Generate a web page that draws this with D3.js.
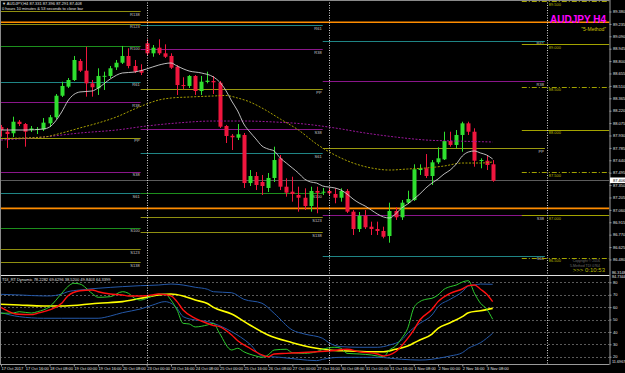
<!DOCTYPE html>
<html>
<head>
<meta charset="utf-8">
<script src="https://cdn.jsdelivr.net/npm/d3@7"></script>
<style>
  body { margin: 0; background: #000; }
  svg { display: block; font-family: "Liberation Sans", Arial, sans-serif; }
</style>
</head>
<body>
<div id="chart"></div>
<script>
// Define the width and height of the SVG
const width = 625;
const height = 373;

// AUDJPY H4 candles, bar 0 = 17 Oct 2017 00:00, bar 81 = 3 Nov 2017 12:00
const opens = [88.029, 87.974, 87.956, 88.091, 88.064, 87.994, 88.000, 88.002, 88.072, 88.143,
  88.395, 88.501, 88.579, 88.801, 88.688, 88.540, 88.482, 88.620, 88.626, 88.727,
  88.781, 88.860, 88.743, 88.696, 89.008, 88.891, 88.957, 88.891, 88.860, 88.734,
  88.520, 88.509, 88.626, 88.450, 88.556, 88.567, 88.547, 88.041, 87.927, 87.904,
  87.936, 87.374, 87.456, 87.386, 87.316, 87.433, 87.663, 87.331, 87.273, 87.234,
  87.202, 87.105, 87.281, 87.261, 87.281, 87.246, 87.202, 87.281, 87.039, 86.836,
  86.992, 86.863, 86.836, 86.813, 86.754, 87.047, 86.973, 87.144, 87.175, 87.526,
  87.546, 87.456, 87.616, 87.651, 87.865, 87.819, 87.936, 88.072, 87.974, 87.635,
  87.635, 87.593];
const highs = [88.053, 88.018, 88.150, 88.111, 88.076, 88.041, 88.029, 88.134, 88.170, 88.415,
  88.559, 88.602, 88.860, 88.825, 88.968, 88.579, 88.716, 88.676, 88.743, 88.813,
  88.977, 88.950, 88.813, 88.763, 89.055, 88.988, 89.055, 88.996, 88.891, 88.754,
  88.611, 88.637, 88.637, 88.626, 88.676, 88.626, 88.567, 88.053, 87.947, 88.064,
  87.959, 87.526, 87.503, 87.468, 87.491, 87.799, 87.702, 87.429, 87.448, 87.331,
  87.312, 87.331, 87.331, 87.316, 87.316, 87.312, 87.312, 87.304, 87.058, 87.035,
  87.058, 86.922, 86.922, 86.863, 87.144, 87.090, 87.175, 87.284, 87.593, 87.593,
  87.713, 87.643, 87.792, 87.974, 87.974, 87.994, 88.091, 88.091, 88.014, 87.663,
  87.702, 87.643];
const lows = [87.916, 87.784, 87.912, 88.041, 87.799, 87.971, 87.947, 87.982, 88.029, 88.123,
  88.380, 88.485, 88.567, 88.672, 88.384, 88.384, 88.404, 88.462, 88.602, 88.696,
  88.766, 88.716, 88.661, 88.637, 88.871, 88.851, 88.871, 88.836, 88.708, 88.404,
  88.470, 88.485, 88.404, 88.404, 88.540, 88.415, 88.018, 87.842, 87.760, 87.877,
  87.316, 87.339, 87.292, 87.234, 87.269, 87.386, 87.292, 87.214, 87.156, 87.039,
  87.058, 87.039, 87.020, 87.234, 87.222, 87.137, 87.156, 87.023, 86.766, 86.801,
  86.836, 86.766, 86.766, 86.727, 86.676, 86.942, 86.942, 87.129, 87.164, 87.468,
  87.433, 87.351, 87.596, 87.643, 87.799, 87.780, 87.740, 87.936, 87.565, 87.546,
  87.526, 87.389];
const closes = [87.994, 87.947, 88.091, 88.064, 87.974, 88.012, 88.006, 88.080, 88.143, 88.395,
  88.509, 88.579, 88.813, 88.688, 88.540, 88.494, 88.626, 88.628, 88.716, 88.781,
  88.860, 88.743, 88.676, 88.664, 88.891, 88.957, 88.891, 88.851, 88.723, 88.520,
  88.509, 88.626, 88.450, 88.559, 88.571, 88.552, 88.033, 87.924, 87.909, 87.944,
  87.374, 87.456, 87.351, 87.339, 87.433, 87.643, 87.331, 87.261, 87.246, 87.202,
  87.105, 87.281, 87.261, 87.273, 87.254, 87.202, 87.281, 87.039, 86.836, 86.992,
  86.856, 86.836, 86.813, 86.746, 87.047, 86.973, 87.144, 87.187, 87.535, 87.546,
  87.456, 87.616, 87.663, 87.865, 87.819, 87.936, 88.072, 87.974, 87.635, 87.643,
  87.585, 87.401];

// moving averages (bar index, price)
const maFastBars = [0, 4, 7, 8, 10, 11, 13, 15, 16, 18, 20, 22, 24, 26, 28, 29, 31, 33, 35, 36,
  37, 38, 39, 40, 41, 42, 43, 44, 45, 46, 47, 48, 49, 50, 51, 52, 53, 54, 55, 56,
  57, 58, 59, 60, 61, 62, 63, 64, 65, 66, 67, 68, 69, 70, 71, 72, 73, 74, 75, 76,
  77, 78, 79, 80, 81];
const maFastValues = [87.994, 87.994, 88.006, 88.029, 88.205, 88.333, 88.439, 88.450, 88.485, 88.591,
  88.661, 88.672, 88.708, 88.754, 88.778, 88.743, 88.684, 88.661, 88.614, 88.556,
  88.462, 88.333, 88.216, 88.064, 87.971, 87.889, 87.807, 87.772, 87.749, 87.667,
  87.608, 87.550, 87.491, 87.421, 87.386, 87.374, 87.339, 87.327, 87.316, 87.292,
  87.246, 87.187, 87.140, 87.105, 87.058, 87.012, 86.977, 86.965, 87.012, 87.082,
  87.129, 87.187, 87.246, 87.316, 87.374, 87.421, 87.480, 87.526, 87.596, 87.690,
  87.737, 87.749, 87.725, 87.702, 87.655];
const maSlowBars = [0, 7, 10, 13, 16, 19, 22, 24, 26, 28, 31, 35, 37, 39, 41, 43, 46, 49, 52, 55,
  58, 61, 64, 67, 70, 73, 76, 79, 81];
const maSlowValues = [87.895, 87.912, 87.959, 88.018, 88.076, 88.146, 88.240, 88.298, 88.345, 88.368,
  88.380, 88.392, 88.398, 88.368, 88.322, 88.251, 88.123, 87.994, 87.830, 87.702,
  87.608, 87.550, 87.526, 87.538, 87.550, 87.573, 87.608, 87.608, 87.620];
const maLongBars = [0, 7, 13, 19, 24, 29, 35, 40, 45, 50, 55, 60, 65, 70, 75, 81];
const maLongValues = [87.877, 87.912, 87.959, 87.994, 88.041, 88.076, 88.099, 88.099, 88.088, 88.064,
  88.018, 87.959, 87.912, 87.877, 87.865, 87.854];

// fibonacci pivot levels for three weeks
const pivotNames = ["R138", "R123", "R100", "R61", "R38", "PP", "S38", "S61", "S100", "S123", "S138"];
const pivotColors = ["#8f8f10", "#8f8f10", "#1d8f1d", "#1f8585", "#8a168a", "#9a9a10", "#8a168a", "#1f8585", "#1d8f1d", "#8f8f10", "#8f8f10"];
const prevWeekPivots = [89.382, 89.234, 88.977, 88.559, 88.318, 87.904, 87.506, 87.254, 86.851, 86.599, 86.447];
const thisWeekPivots = [null, null, null, 89.222, 88.938, 88.470, 88.002, 87.722, 87.257, 86.973, 86.801];
const nextWeekPivots = [null, null, null, 89.039, 88.567, 87.780, 86.996, 86.524, null, null, null];
const weekSpans = [[-0.3, 23], [23, 53], [53, 89.6]];

const roundLevels = [89.5, 89.0, 88.5, 88.0, 87.5, 87.0, 86.5];
const orangeLevels = [89.254, 87.078];
const bidPrice = 87.406;
const separatorBars = [24, 54, 90];

const priceTicks = [86.480, 86.625, 86.770, 86.915, 87.060, 87.205, 87.350, 87.495, 87.640, 87.785,
  87.930, 88.075, 88.220, 88.365, 88.510, 88.655, 88.800, 88.945, 89.090, 89.235, 89.380];
const timeTickBars = [0, 4, 8, 12, 16, 20, 24, 28, 32, 36, 40, 44, 48, 52, 56, 60, 64, 68, 72, 76, 80];
const timeTickLabels = ["17 Oct 2017", "17 Oct 16:00", "18 Oct 08:00", "19 Oct 00:00", "19 Oct 16:00",
  "20 Oct 08:00", "23 Oct 00:00", "23 Oct 16:00", "24 Oct 08:00", "25 Oct 00:00", "25 Oct 16:00",
  "26 Oct 08:00", "27 Oct 00:00", "27 Oct 16:00", "30 Oct 08:00", "31 Oct 00:00", "31 Oct 16:00",
  "1 Nov 08:00", "2 Nov 00:00", "2 Nov 16:00", "3 Nov 08:00"];

// TDI sub window lines (bar index, value)
const rsiBars = [0, 2, 3, 5, 6, 8, 10, 11, 12, 13, 15, 16, 18, 20, 21, 22, 23, 25, 26, 27,
  28, 29, 30, 31, 32, 34, 35, 36, 38, 39, 40, 42, 43, 44, 45, 47, 48, 50, 52, 53,
  55, 56, 57, 59, 61, 62, 63, 64, 65, 66, 67, 68, 69, 70, 71, 72, 73, 74, 75, 76,
  77, 78, 79, 80, 81];
const rsiValues = [55.0, 55.2, 56.3, 55.2, 56.3, 60.3, 71.1, 76.5, 79.2, 78.6, 71.1, 67.9, 68.4, 72.4, 71.1, 67.1, 65.7, 69.2, 70.6, 70.6,
  65.7, 57.7, 46.9, 46.4, 44.0, 45.6, 46.9, 38.9, 25.4, 26.8, 24.0, 20.6, 19.5, 21.4, 25.4, 26.0, 23.2, 22.7, 24.0, 26.0,
  27.6, 26.8, 22.7, 22.2, 21.4, 20.6, 20.0, 25.4, 28.6, 34.8, 42.9, 59.3, 64.4, 66.3, 67.1, 69.8, 74.4, 76.5, 77.8, 80.2,
  81.3, 71.1, 63.1, 58.5, 50.2];
const signalBars = [0, 1, 2, 3, 5, 6, 8, 10, 11, 13, 15, 16, 18, 20, 21, 23, 25, 26, 28, 29,
  30, 32, 33, 35, 36, 38, 39, 41, 43, 44, 45, 47, 49, 52, 54, 57, 59, 62, 63, 65,
  67, 68, 69, 71, 72, 74, 76, 77, 78, 79, 80, 81];
const signalValues = [59.8, 57.1, 55.0, 54.2, 53.9, 55.0, 57.7, 63.1, 69.0, 73.2, 73.8, 72.4, 70.6, 69.8, 69.0, 69.0, 69.8, 70.6, 69.0, 64.4,
  57.7, 51.0, 48.8, 45.2, 44.2, 37.5, 32.9, 26.8, 21.4, 20.0, 22.2, 22.7, 23.2, 24.0, 24.6, 26.0, 24.0, 22.2, 20.6, 24.0,
  34.8, 41.5, 49.6, 58.2, 64.4, 71.1, 74.6, 77.3, 77.8, 74.4, 70.6, 64.4];
const baseBars = [0, 3, 7, 10, 13, 16, 20, 23, 26, 28, 30, 32, 34, 35, 38, 41, 44, 48, 51, 54,
  57, 61, 63, 65, 67, 68, 69, 71, 72, 74, 76, 77, 79, 81];
const baseValues = [62.3, 61.7, 60.9, 60.9, 61.7, 63.1, 64.4, 67.1, 69.8, 70.6, 69.0, 65.7, 62.9, 59.8, 54.4, 45.6, 37.5, 31.3, 27.6, 25.4,
  24.6, 24.0, 24.0, 26.0, 28.6, 31.0, 33.5, 38.3, 42.9, 47.4, 52.3, 55.5, 57.1, 59.0];
const upperBars = [0, 3, 7, 8, 10, 11, 13, 16, 20, 23, 26, 28, 30, 32, 34, 35, 38, 40, 43, 45,
  48, 50, 53, 54, 56, 59, 62, 64, 66, 67, 69, 71, 72, 74, 76, 77, 78, 79, 81];
const upperValues = [70.3, 69.8, 69.0, 69.0, 70.6, 72.4, 73.8, 75.2, 76.5, 77.3, 77.8, 78.6, 77.8, 76.0, 74.4, 72.4, 71.6, 66.3, 63.1, 55.0,
  41.5, 38.3, 34.8, 31.3, 28.1, 27.6, 27.6, 29.4, 33.5, 38.9, 46.9, 53.6, 60.3, 66.3, 72.4, 77.0, 77.8, 78.6, 78.4];
const lowerBars = [0, 3, 7, 10, 13, 16, 18, 20, 23, 25, 27, 28, 29, 30, 32, 34, 35, 38, 41, 43,
  46, 49, 52, 53, 56, 59, 62, 66, 69, 71, 72, 74, 76, 77, 79, 81];
const lowerValues = [55.5, 52.3, 51.0, 51.0, 51.0, 51.0, 52.8, 55.5, 58.5, 61.7, 64.4, 63.1, 59.0, 52.3, 49.6, 48.4, 46.9, 40.2, 30.2, 20.6,
  19.5, 17.9, 16.8, 17.9, 19.5, 19.5, 19.5, 17.9, 17.3, 17.9, 18.7, 20.6, 23.2, 26.8, 31.3, 38.9];
const subTicks = [80, 70, 60, 50, 40, 30, 20];

// scales
const plotRight = 609.5;
const x = d3.scaleLinear().domain([0, 100]).range([1, 608]);
const y = d3.scaleLinear().domain([87, 89]).range([215, 44]);
const ySub = d3.scaleLinear().domain([20, 80]).range([356.7, 282.3]);

const svg = d3.select("#chart")
  .append("svg")
  .attr("width", width)
  .attr("height", height);

svg.append("rect").attr("width", width).attr("height", height).attr("fill", "#000");

svg.append("clipPath").attr("id", "mainClip")
  .append("rect").attr("x", 0).attr("y", 0).attr("width", plotRight).attr("height", 274);
svg.append("clipPath").attr("id", "subClip")
  .append("rect").attr("x", 0).attr("y", 276).attr("width", plotRight).attr("height", 88);

const main = svg.append("g").attr("clip-path", "url(#mainClip)");
const sub = svg.append("g").attr("clip-path", "url(#subClip)");

// pivot segments
[prevWeekPivots, thisWeekPivots, nextWeekPivots].forEach((levels, w) => {
  const [b0, b1] = weekSpans[w];
  levels.forEach((p, k) => {
    if (p === null) return;
    main.append("line")
      .attr("x1", x(b0)).attr("x2", x(b1))
      .attr("y1", Math.round(y(p)) + 0.5).attr("y2", Math.round(y(p)) + 0.5)
      .attr("stroke", pivotColors[k]).attr("stroke-width", 1);
    main.append("text")
      .attr("x", x(b1) - 1).attr("y", y(p) + 4.5)
      .attr("text-anchor", "end")
      .attr("font-size", "4px")
      .attr("fill", "#c8c8c8")
      .text(pivotNames[k]);
  });
});

// round number levels
roundLevels.forEach(p => {
  const whole = Math.abs(p - Math.round(p)) < 0.001;
  main.append("line")
    .attr("x1", x(85.8)).attr("x2", plotRight)
    .attr("y1", Math.round(y(p)) + 0.5).attr("y2", Math.round(y(p)) + 0.5)
    .attr("stroke", "#a3a300")
    .attr("stroke-dasharray", whole ? null : "5,2,1,2");
  main.append("text")
    .attr("x", x(90) + 1.5).attr("y", y(p) + 4.5)
    .attr("font-size", "4px")
    .attr("fill", "#b8b800")
    .text(p.toFixed(3));
});

// orange levels
orangeLevels.forEach(p => {
  main.append("line")
    .attr("x1", 0).attr("x2", plotRight)
    .attr("y1", y(p)).attr("y2", y(p))
    .attr("stroke", "#ff8c00").attr("stroke-width", 1.6);
});

// bid line
main.append("line")
  .attr("x1", 0).attr("x2", plotRight)
  .attr("y1", Math.round(y(bidPrice)) + 0.5).attr("y2", Math.round(y(bidPrice)) + 0.5)
  .attr("stroke", "#5c5c5c");

// candles
const bars = d3.range(opens.length);
const upColor = "#2fe02f";
const downColor = "#f0163e";
main.selectAll("line.wick")
  .data(bars)
  .enter()
  .append("line")
  .attr("class", "wick")
  .attr("x1", i => Math.round(x(i)) + 0.5)
  .attr("x2", i => Math.round(x(i)) + 0.5)
  .attr("y1", i => y(highs[i]))
  .attr("y2", i => y(lows[i]))
  .attr("stroke", i => closes[i] >= opens[i] ? upColor : downColor);
main.selectAll("rect.body")
  .data(bars)
  .enter()
  .append("rect")
  .attr("class", "body")
  .attr("x", i => Math.round(x(i)) - 1.5)
  .attr("y", i => y(Math.max(opens[i], closes[i])))
  .attr("width", 4)
  .attr("height", i => Math.max(1, Math.abs(y(opens[i]) - y(closes[i]))))
  .attr("fill", i => closes[i] >= opens[i] ? upColor : downColor);

// moving averages
const maLine = d3.line().x(d => x(d[0])).y(d => y(d[1])).curve(d3.curveMonotoneX);
main.append("path")
  .attr("d", maLine(maLongBars.map((b, k) => [b, maLongValues[k]])))
  .attr("fill", "none").attr("stroke", "#9a169a").attr("stroke-dasharray", "2,1.5");
main.append("path")
  .attr("d", maLine(maSlowBars.map((b, k) => [b, maSlowValues[k]])))
  .attr("fill", "none").attr("stroke", "#a8a000").attr("stroke-dasharray", "2,1.5");
main.append("path")
  .attr("d", maLine(maFastBars.map((b, k) => [b, maFastValues[k]])))
  .attr("fill", "none").attr("stroke", "#d0d0d0").attr("stroke-width", 0.9);

// titles in main window
svg.append("text").attr("x", 2).attr("y", 5)
  .attr("font-size", "4px").attr("fill", "#e0e0e0")
  .text("\u25BC AUDJPY,H4 87.331 87.396 87.291 87.408");
svg.append("text").attr("x", 2).attr("y", 9.5)
  .attr("font-size", "4px").attr("fill", "#e0e0e0")
  .text("0 hours 10 minutes & 53 seconds to close bar");
svg.append("text").attr("x", 606).attr("y", 23)
  .attr("text-anchor", "end")
  .attr("font-size", "10px").attr("font-weight", "bold")
  .attr("fill", "#ff00ff")
  .text("AUDJPY H4");
svg.append("text").attr("x", 606).attr("y", 31)
  .attr("text-anchor", "end")
  .attr("font-size", "5px")
  .attr("fill", "#d0c800")
  .text("\"5-Method\"");
svg.append("text").attr("x", 600).attr("y", 262)
  .attr("text-anchor", "end").attr("font-size", "3.5px").attr("fill", "#6a6a6a")
  .text("Copyright \u00A9 2016");
svg.append("text").attr("x", 600).attr("y", 267)
  .attr("text-anchor", "end").attr("font-size", "3.5px").attr("fill", "#6a6a6a")
  .text("5-Method TDI 0764");
svg.append("text").attr("x", 605).attr("y", 272)
  .attr("text-anchor", "end").attr("font-size", "6px").attr("fill", "#b8b800")
  .text(">>> 0:10:53");

// sub window: levels and TDI lines
sub.selectAll("line.level")
  .data(subTicks)
  .enter()
  .append("line")
  .attr("class", "level")
  .attr("x1", 0).attr("x2", plotRight)
  .attr("y1", d => Math.round(ySub(d)) + 0.5).attr("y2", d => Math.round(ySub(d)) + 0.5)
  .attr("stroke", "#5a5a5a").attr("stroke-dasharray", "2,2");

const subLine = d3.line().x(d => x(d[0])).y(d => ySub(d[1])).curve(d3.curveMonotoneX);
const tdiSeries = [
  { bars: upperBars, values: upperValues, color: "#2458a8", w: 1 },
  { bars: lowerBars, values: lowerValues, color: "#2458a8", w: 1 },
  { bars: baseBars, values: baseValues, color: "#ffff00", w: 1.6 },
  { bars: rsiBars, values: rsiValues, color: "#2ecc2e", w: 1 },
  { bars: signalBars, values: signalValues, color: "#ff1010", w: 1.4 }
];
tdiSeries.forEach(s => {
  sub.append("path")
    .attr("d", subLine(s.bars.map((b, k) => [b, s.values[k]])))
    .attr("fill", "none").attr("stroke", s.color).attr("stroke-width", s.w);
});

svg.append("text").attr("x", 2).attr("y", 280.5)
  .attr("font-size", "4px").attr("fill", "#e0e0e0")
  .text("TDI_RT Dynamic 78.2282 69.6296 38.5200 49.8403 64.3399");

// period separators
svg.selectAll("line.sep")
  .data(separatorBars)
  .enter()
  .append("line")
  .attr("class", "sep")
  .attr("x1", d => Math.round(x(d)) + 0.5).attr("x2", d => Math.round(x(d)) + 0.5)
  .attr("y1", 0).attr("y2", 364)
  .attr("stroke", "#d8d8d8").attr("stroke-dasharray", "1,1.5");

// frames
svg.append("line").attr("x1", 0).attr("x2", plotRight).attr("y1", 275.5).attr("y2", 275.5)
  .attr("stroke", "#e0e0e0").attr("stroke-width", 1.2);
svg.append("line").attr("x1", 0).attr("x2", plotRight).attr("y1", 364.5).attr("y2", 364.5)
  .attr("stroke", "#9a9a9a");
svg.append("line").attr("x1", 0.5).attr("x2", 0.5).attr("y1", 0).attr("y2", 364.5)
  .attr("stroke", "#8a8a8a");
svg.append("line").attr("x1", 0).attr("x2", plotRight).attr("y1", 0.5).attr("y2", 0.5)
  .attr("stroke", "#8a8a8a");

// price axis
const priceAxis = d3.axisRight(y).tickValues(priceTicks).tickSize(2).tickFormat(d3.format(".3f"));
const pa = svg.append("g").attr("transform", `translate(${plotRight},0)`).call(priceAxis);
pa.select(".domain").attr("stroke", "#9a9a9a").attr("d", "M0.5,0V364.5");
pa.selectAll(".tick line").attr("stroke", "#9a9a9a");
pa.selectAll(".tick text").attr("fill", "#e0e0e0").attr("font-size", "4px").attr("x", 3.5)
  .attr("font-family", "Liberation Sans, Arial, sans-serif");

// bid label
svg.append("rect").attr("x", 610).attr("y", y(bidPrice) - 2.8).attr("width", 15).attr("height", 5.6).attr("fill", "#ffffff");
svg.append("text").attr("x", 613).attr("y", y(bidPrice) + 1.5)
  .attr("font-size", "4px").attr("fill", "#000")
  .text(bidPrice.toFixed(3));

// sub axis
const subAxis = d3.axisRight(ySub).tickValues(subTicks).tickSize(2).tickFormat(d3.format("d"));
const sa = svg.append("g").attr("transform", `translate(${plotRight},0)`).call(subAxis);
sa.select(".domain").remove();
sa.selectAll(".tick line").attr("stroke", "#9a9a9a");
sa.selectAll(".tick text").attr("fill", "#e0e0e0").attr("font-size", "4px").attr("x", 3.5)
  .attr("font-family", "Liberation Sans, Arial, sans-serif");
[["86.3148", 273.5], ["84.7344", 278], ["11.6967", 363]].forEach(([t, yy]) => {
  svg.append("text").attr("x", 612).attr("y", yy)
    .attr("font-size", "3.8px").attr("fill", "#e0e0e0").text(t);
});

// time axis
const timeAxis = d3.axisBottom(x).tickValues(timeTickBars).tickSize(2)
  .tickFormat((d, k) => timeTickLabels[k]);
const ta = svg.append("g").attr("transform", "translate(0,364.5)").call(timeAxis);
ta.select(".domain").remove();
ta.selectAll(".tick line").attr("stroke", "#9a9a9a");
ta.selectAll(".tick text")
  .attr("fill", "#e0e0e0").attr("font-size", "4px")
  .attr("text-anchor", "start").attr("x", 0).attr("y", 3).attr("dy", "0.71em")
  .attr("font-family", "Liberation Sans, Arial, sans-serif");
</script>
</body>
</html>
